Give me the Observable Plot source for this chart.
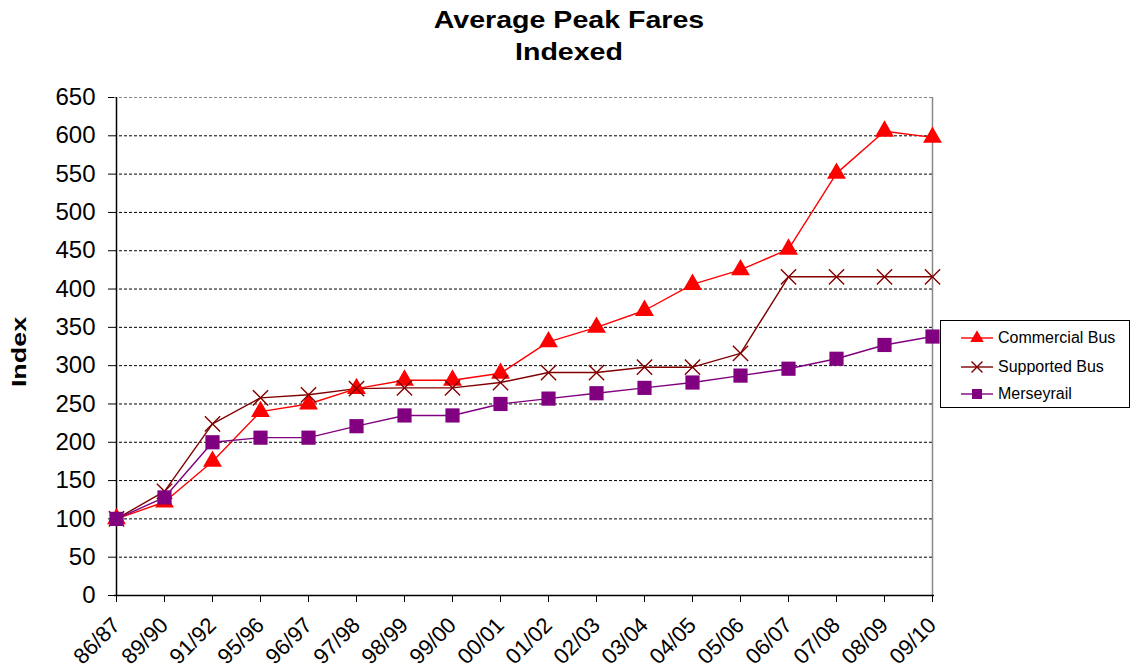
<!DOCTYPE html>
<html>
<head>
<meta charset="utf-8">
<script src="https://cdn.jsdelivr.net/npm/d3@7"></script>
<script src="https://cdn.jsdelivr.net/npm/@observablehq/plot@0.6"></script>
<style>
  body { margin: 0; background: #fff; font-family: "Liberation Sans", Arial, sans-serif; }
  #wrap { position: relative; width: 1131px; height: 672px; overflow: hidden; }
  #title { position: absolute; left: 0; top: 4px; width: 1138px; text-align: center; font-weight: bold; font-size: 24px; line-height: 32px; color: #000; transform: scaleX(1.19); transform-origin: 569px 0; }
  #legend { position: absolute; left: 940px; top: 320px; width: 190px; height: 88px; border: 1px solid #000; box-sizing: border-box; background: #fff; }
  .lrow { position: absolute; left: 0; height: 20px; font-size: 16px; color: #000; }
  .lrow svg { position: absolute; left: 20px; top: 0; }
  .lrow span { position: absolute; left: 57px; top: 1px; white-space: nowrap; }
  #ylab { position: absolute; left: 19px; top: 352px; transform: translate(-50%, -50%) rotate(-90deg) scaleX(1.28); font-weight: bold; font-size: 21px; }
</style>
</head>
<body>
<div id="wrap">
  <div id="chart"></div>
  <div id="title">Average Peak Fares<br>Indexed</div>
  <div id="ylab">Index</div>
  <div id="legend"></div>
</div>
<script>
const years = ["86/87","89/90","91/92","95/96","96/97","97/98","98/99","99/00","00/01","01/02","02/03","03/04","04/05","05/06","06/07","07/08","08/09","09/10"];
const commercialBus = [100,122,175,240,250,270,281,281,290,331,350,372,406,425,452,551,606,598];
const supportedBus = [100,136,224,258,262,270,271,271,278,291,291,298,298,316,416,416,416,416];
const merseyrail = [100,128,200,206,206,221,235,235,250,257,264,271,278,287,296,309,327,338];
const yTicks = [0,50,100,150,200,250,300,350,400,450,500,550,600,650];
const seriesNames = ["Commercial Bus","Supported Bus","Merseyrail"];
const seriesColors = ["#ff0000","#800000","#800080"];
const seriesSymbols = ["triangle","times","square"];

const allValues = [commercialBus, supportedBus, merseyrail];
const data = [];
seriesNames.forEach((name, i) => {
  years.forEach((y, j) => data.push({series: name, year: y, value: allValues[i][j]}));
});

const chart = Plot.plot({
  width: 1131,
  height: 672,
  marginLeft: 114,
  marginRight: 197,
  marginTop: 97,
  marginBottom: 77,
  style: {fontFamily: "'Liberation Sans', Arial, sans-serif", fontSize: "24px", color: "#000", background: "#fff"},
  x: {type: "point", domain: years, padding: 0},
  y: {domain: [0, 650]},
  marks: [
    Plot.ruleY(yTicks.filter(d => d > 0 && d < 650), {stroke: "#000", strokeDasharray: "3,2", strokeWidth: 1}),
    Plot.ruleY([650], {stroke: "#888", strokeDasharray: "3,2", strokeWidth: 1}),
    Plot.ruleX([years[years.length - 1]], {stroke: "#888", strokeWidth: 1.5}),
    Plot.axisY({ticks: yTicks, tickSize: 6, tickPadding: 13, label: null, fontSize: 24, stroke: "#000", strokeWidth: 1}),
    Plot.axisX({tickSize: 7, tickPadding: 19, tickRotate: -45, label: null, fontSize: 22, stroke: "#000", strokeWidth: 1}),
    Plot.ruleX([years[0]], {stroke: "#000", strokeWidth: 1.5}),
    Plot.ruleY([0], {stroke: "#000", strokeWidth: 1.5}),
    ...seriesNames.map((name, i) => Plot.line(data.filter(d => d.series === name), {x: "year", y: "value", stroke: seriesColors[i], strokeWidth: 1.4})),
    ...seriesNames.map((name, i) => Plot.dot(data.filter(d => d.series === name), {
      x: "year", y: "value", symbol: seriesSymbols[i],
      fill: i === 1 ? "none" : seriesColors[i],
      stroke: seriesColors[i], strokeWidth: i === 1 ? 1.4 : 0,
      r: i === 0 ? 7 : i === 1 ? 7 : 8
    }))
  ]
});
chart.querySelectorAll("[aria-label='y-axis tick label']").forEach(g => g.setAttribute("font-size", "24"));
chart.querySelectorAll("[aria-label='x-axis tick label']").forEach(g => g.setAttribute("font-size", "22"));
document.getElementById("chart").appendChild(chart);

// Legend
const legend = document.getElementById("legend");
const rowTops = [7, 36, 63];
seriesNames.forEach((name, i) => {
  const row = document.createElement("div");
  row.className = "lrow";
  row.style.top = rowTops[i] + "px";
  const sym = d3.symbol().type(i === 0 ? d3.symbolTriangle : i === 1 ? d3.symbolTimes : d3.symbolSquare).size(i === 0 ? 80 : i === 1 ? 80 : 100)();
  row.innerHTML = `<svg width="34" height="20"><line x1="0" x2="32" y1="10" y2="10" stroke="${seriesColors[i]}" stroke-width="1.4"/>
    <path d="${sym}" transform="translate(16,10)" fill="${i === 1 ? "none" : seriesColors[i]}" stroke="${seriesColors[i]}" stroke-width="${i === 1 ? 1.4 : 0}"/></svg><span>${name}</span>`;
  legend.appendChild(row);
});
</script>
</body>
</html>
